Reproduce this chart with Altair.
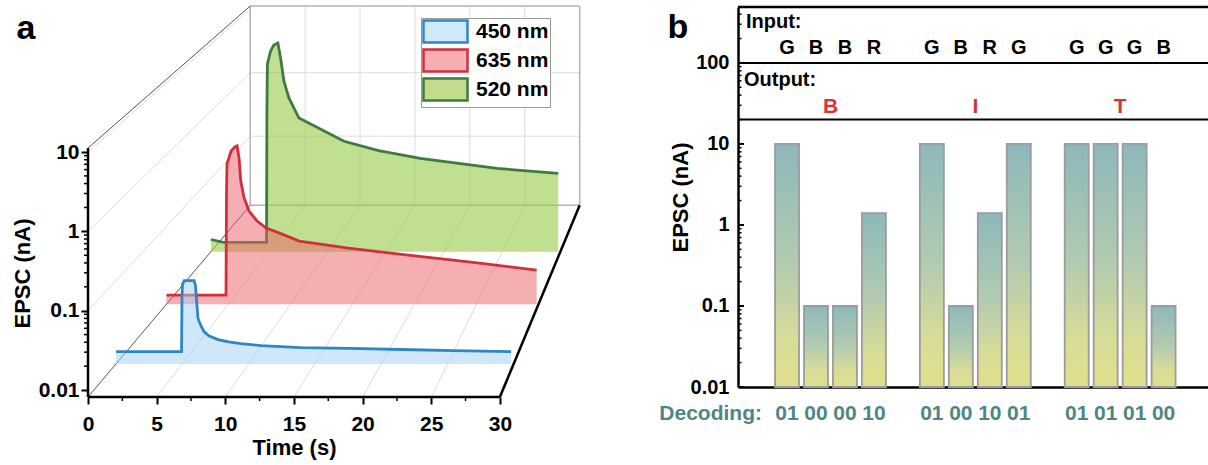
import json
import altair as alt
import numpy as np
import pandas as pd

FONT = "Liberation Sans"

# ================= Panel a : EPSC transients (pseudo-3D) =================
names = ["450 nm", "635 nm", "520 nm"]
line_colors = ["#2f86c6", "#d02f3c", "#3e7b3e"]
area_colors = ["#9fd0f3", "#ec5f67", "#9bcb4c"]
area_opacity = [0.5, 0.5, 0.62]
legend_fill = ["#cfe8fa", "#f5afb3", "#c2dc8c"]
depth = [1 / 7, 3 / 7, 5 / 7]

t_450 = [0, 4.95, 4.98, 5.02, 5.15, 5.9, 6.0, 6.1, 6.19, 6.4, 6.64, 7.0, 7.7, 8.5,
         9.43, 10.93, 13.95, 17.7, 21.5, 25.5, 29.8]
v_450 = [0.0118, 0.0118, 0.06, 0.09, 0.1, 0.1, 0.085, 0.05, 0.032, 0.026, 0.0216,
         0.019, 0.017, 0.0158, 0.0150, 0.0142, 0.0133, 0.0130, 0.0126, 0.0122, 0.0118]

t_635 = [0, 4.8, 4.84, 4.88, 5.21, 5.5, 5.69, 5.85, 5.99, 6.26, 6.66, 7.31, 8.04,
         9.33, 10.7, 14.66, 18.78, 25.24, 29.85]
v_635 = [0.0109, 0.0109, 0.3, 0.74, 1.12, 1.27, 1.32, 0.895, 0.428, 0.247, 0.163,
         0.118, 0.0942, 0.0777, 0.0619, 0.0495, 0.0408, 0.0305, 0.0244]

t_520 = [0, 1.0, 4.78, 4.81, 4.85, 5.12, 5.4, 5.75, 5.98, 6.27, 6.7, 7.56, 9.27,
         11.43, 14.4, 17.97, 24.58, 29.82]
v_520 = [0.0124, 0.0113, 0.0112, 1.0, 4.99, 7.78, 9.6, 10.25, 6.2, 2.79, 1.57, 0.79,
         0.556, 0.357, 0.26, 0.199, 0.141, 0.119]

series_t = [t_450, t_635, t_520]
series_v = [v_450, v_635, v_520]

x_ticks_a = [0, 5, 10, 15, 20, 25, 30]
x_minor_a = [2.5, 7.5, 12.5, 17.5, 22.5, 27.5]
y_ticks_a = [-2, -1, 0, 1]
y_labels_a = ["0.01", "0.1", "1", "10"]

# box of the 3D plot, in front-plane data units (time, log10 EPSC)
T0, T1 = 0.0, 30.0
L_FLOOR, L_TOP = -2.088, 1.05
VT, VL = 59.07, 10.0      # vanishing point
K = 0.25                  # perspective strength (back wall scaled by 0.8)


def proj(t, L, f):
    s = 1.0 / (1.0 + K * f)
    return VT + s * (np.asarray(t, float) - VT), VL + s * (np.asarray(L, float) - VL)


def seg(t1, L1, f1, t2, L2, f2):
    x1, y1 = proj(t1, L1, f1)
    x2, y2 = proj(t2, L2, f2)
    return dict(x=float(x1), y=float(y1), x2=float(x2), y2=float(y2))


WA, HA = 497, 390
xa = alt.Scale(domain=[0, 36.2], nice=False, zero=False)
ya = alt.Scale(domain=[L_FLOOR, 2.828], nice=False, zero=False)

x_axis_a = alt.Axis(values=x_ticks_a, domain=False, grid=False, tickSize=7, tickWidth=2,
                    tickColor="black", labelFont=FONT, labelFontSize=21, labelFontWeight="bold",
                    labelColor="black", labelPadding=9, labelFlush=False, labelOverlap=False,
                    title="Time (s)", titleFont=FONT, titleFontSize=22, titleFontWeight="bold",
                    titleColor="black", titleX=206, titleY=57, titleBaseline="alphabetic",
                    titleAlign="center")
y_axis_a = alt.Axis(values=y_ticks_a, labelExpr=json.dumps(y_labels_a) + "[datum.value + 2]",
                    domain=False, grid=False, tickSize=7, tickWidth=2, tickColor="black",
                    labelFont=FONT, labelFontSize=21, labelFontWeight="bold", labelColor="black",
                    labelPadding=2, labelFlush=False, labelOverlap=False,
                    title="EPSC (nA)", titleFont=FONT, titleFontSize=22, titleFontWeight="bold",
                    titleColor="black", titleX=-66, titleY=266, titleBaseline="middle",
                    titleAlign="center", titleAngle=270)

XA = alt.X("x:Q", scale=xa, axis=x_axis_a)
YA = alt.Y("y:Q", scale=ya, axis=y_axis_a)


def rules(rows, color, width):
    return alt.Chart(pd.DataFrame(rows)).mark_rule(color=color, strokeWidth=width).encode(
        XA, YA, x2="x2:Q", y2="y2:Q")


grid_rows = []
for t in [5, 10, 15, 20, 25]:
    grid_rows.append(seg(t, L_FLOOR, 1, t, L_TOP, 1))      # back wall verticals
    grid_rows.append(seg(t, L_FLOOR, 0, t, L_FLOOR, 1))    # floor lines
for L in [-1, 0]:
    grid_rows.append(seg(T0, L, 1, T1, L, 1))              # back wall horizontals
for L in [-1, 0, 1]:
    grid_rows.append(seg(T0, L, 0, T0, L, 1))              # left wall lines

frame_rows = [seg(T0, L_FLOOR, 1, T1, L_FLOOR, 1), seg(T0, L_TOP, 1, T1, L_TOP, 1),
              seg(T0, L_FLOOR, 1, T0, L_TOP, 1), seg(T1, L_FLOOR, 1, T1, L_TOP, 1)]
thin_rows = [seg(T0, L_FLOOR, 0, T0, L_FLOOR, 1), seg(T0, L_TOP, 0, T0, L_TOP, 1)]
thick_rows = [seg(T1, L_FLOOR, 0, T1, L_FLOOR, 1), seg(T0, L_FLOOR, 0, T1, L_FLOOR, 0),
              seg(T0, L_FLOOR, 0, T0, L_TOP, 0)]

layers_a = [rules(grid_rows, "#dcdcdc", 1), rules(frame_rows, "#b4b4b4", 1.5),
            rules(thin_rows, "#555555", 1)]

for i in [2, 1, 0]:
    xs, ys = proj(series_t[i], np.log10(series_v[i]), depth[i])
    _, yfloor = proj(0, L_FLOOR, depth[i])
    df = pd.DataFrame({"x": xs, "y": ys, "y2": float(yfloor)})
    layers_a.append(alt.Chart(df).mark_area(color=area_colors[i], opacity=area_opacity[i])
                    .encode(XA, YA, y2="y2:Q"))
    layers_a.append(alt.Chart(df).mark_line(color=line_colors[i], strokeWidth=2.8)
                    .encode(XA, YA))

layers_a.append(rules(thick_rows, "black", 2.5))

y_minor_a = [np.log10(k * 10.0 ** d) for d in [-2, -1, 0] for k in range(2, 10)]
layers_a.append(alt.Chart(pd.DataFrame({"y": y_minor_a})).mark_rule(color="black", strokeWidth=1.5)
                .encode(YA, x=alt.value(-4), x2=alt.value(0)))
layers_a.append(alt.Chart(pd.DataFrame({"x": x_minor_a})).mark_rule(color="black", strokeWidth=1.5)
                .encode(XA, y=alt.value(HA), y2=alt.value(HA + 4)))

leg = alt.Legend(title=None, orient="none", legendX=333, legendY=11,
                 symbolType="M-1,-1H3V1H-1Z", symbolSize=484, symbolStrokeWidth=2.5,
                 symbolOpacity=1, labelFont=FONT, labelFontSize=21, labelFontWeight="bold",
                 labelColor="black", labelOffset=29, padding=1, rowPadding=-4,
                 strokeColor="#999999", fillColor="white", cornerRadius=0)
layers_a.append(alt.Chart(pd.DataFrame({"series": names})).mark_point(opacity=0, filled=True)
                .encode(fill=alt.Fill("series:N", scale=alt.Scale(domain=names, range=legend_fill), legend=leg),
                        stroke=alt.Stroke("series:N", scale=alt.Scale(domain=names, range=line_colors), legend=leg),
                        x=alt.value(0), y=alt.value(0)))
layers_a.append(alt.Chart(pd.DataFrame({"lab": ["a"]})).mark_text(
    font=FONT, fontSize=34, fontWeight="bold", color="black", baseline="alphabetic", align="center")
    .encode(text="lab:N", x=alt.value(-62), y=alt.value(32)))

panel_a = alt.layer(*layers_a).properties(width=WA, height=HA)

# ================= Panel b : decoding bars =================
inputs = ["G", "B", "B", "R", "G", "B", "R", "G", "G", "G", "G", "B"]
decoding = ["01", "00", "00", "10", "01", "00", "10", "01", "01", "01", "01", "00"]
epsc_b = [10, 0.1, 0.1, 1.4, 10, 0.1, 1.4, 10, 10, 10, 10, 0.1]
outputs = ["B", "I", "T"]
y_ticks_b = [0.01, 0.1, 1, 10, 100]
y_labels_b = ["0.01", "0.1", "1", "10", "100"]
separators_b = [100, 20]

pos = [g * 5 + i + 1 for g in range(3) for i in range(4)]
out_pos = [g * 5 + 2.5 for g in range(3)]
df_b = pd.DataFrame({"pos": pos, "v": epsc_b, "inp": inputs, "dec": decoding})
df_out = pd.DataFrame({"pos": out_pos, "out": outputs})

WB, HB = 470, 380
xb = alt.Scale(domain=[-0.52, 15.36], nice=False, zero=False)
yb = alt.Scale(type="log", domain=[0.01, 490], nice=False)
x_axis_b = alt.Axis(labels=False, ticks=False, grid=False, domain=True, domainColor="black",
                    domainWidth=2.5, title=None)
y_axis_b = alt.Axis(values=y_ticks_b,
                    labelExpr=json.dumps(y_labels_b) + "[round(log(datum.value) / LN10) + 2]",
                    ticks=False, grid=False, domain=True, domainColor="black", domainWidth=2.5,
                    labelFont=FONT, labelFontSize=20, labelFontWeight="bold", labelColor="black",
                    labelPadding=9, labelFlush=False, labelOverlap=False,
                    title="EPSC (nA)", titleFont=FONT, titleFontSize=22, titleFontWeight="bold",
                    titleColor="black", titleX=-58, titleY=190, titleBaseline="middle",
                    titleAlign="center", titleAngle=270)
XB = alt.X("pos:Q", scale=xb, axis=x_axis_b)
YB = alt.Y("v:Q", scale=yb, axis=y_axis_b)

grad = alt.LinearGradient(gradient="linear", x1=0, x2=0, y1=0, y2=1, stops=[
    alt.GradientStop(color="#8db8bc", offset=0),
    alt.GradientStop(color="#b3cbb0", offset=0.5),
    alt.GradientStop(color="#d8dc98", offset=0.8),
    alt.GradientStop(color="#e0e08a", offset=1)])

bars = alt.Chart(df_b).mark_bar(width=24, fill=grad, stroke="#9c9c9c", strokeWidth=1.8).encode(
    XB, YB, y2=alt.datum(0.01))

minor_b = [k * 10.0 ** d for d in [-2, -1, 0, 1, 2] for k in range(2, 10) if k * 10.0 ** d < 490]
ticks_minor_b = alt.Chart(pd.DataFrame({"v": minor_b})).mark_rule(color="black", strokeWidth=1.5).encode(
    YB, x=alt.value(0), x2=alt.value(3.5))
ticks_major_b = alt.Chart(pd.DataFrame({"v": y_ticks_b})).mark_rule(color="black", strokeWidth=2).encode(
    YB, x=alt.value(0), x2=alt.value(6))
sep = alt.Chart(pd.DataFrame({"v": separators_b})).mark_rule(color="black", strokeWidth=2).encode(
    YB, x=alt.value(0), x2=alt.value(WB))
top_line = alt.Chart(pd.DataFrame({"v": [490]})).mark_rule(color="black", strokeWidth=2.5).encode(
    YB, x=alt.value(0), x2=alt.value(WB))

txt = dict(font=FONT, fontWeight="bold", baseline="alphabetic")
in_letters = alt.Chart(df_b).mark_text(fontSize=20, color="black", align="center", **txt).encode(
    XB, text="inp:N", y=alt.value(47))
dec_letters = alt.Chart(df_b).mark_text(fontSize=21, color="#4f8684", align="center", **txt).encode(
    XB, text="dec:N", y=alt.value(413))
out_letters = alt.Chart(df_out).mark_text(fontSize=21, color="#d8333b", align="center", **txt).encode(
    XB, text="out:N", y=alt.value(106))
row_titles = alt.Chart(pd.DataFrame({"lab": ["Input:", "Output:"], "py": [21, 79], "px": [8, 6]})).mark_text(
    fontSize=20, color="black", align="left", **txt).encode(
    text="lab:N", y=alt.Y("py:Q", scale=None), x=alt.X("px:Q", scale=None))
dec_title = alt.Chart(pd.DataFrame({"lab": ["Decoding:"]})).mark_text(
    fontSize=21, color="#4f8684", align="right", **txt).encode(
    text="lab:N", x=alt.value(24), y=alt.value(413))
b_label = alt.Chart(pd.DataFrame({"lab": ["b"]})).mark_text(
    fontSize=34, color="black", align="center", **txt).encode(
    text="lab:N", x=alt.value(-60), y=alt.value(31))

panel_b = alt.layer(bars, ticks_minor_b, ticks_major_b, sep, top_line, in_letters, dec_letters,
                    out_letters, row_titles, dec_title, b_label).properties(width=WB, height=HB)

chart = alt.hconcat(panel_a, panel_b, spacing=153, bounds="flush").properties(
    autosize=alt.AutoSizeParams(type="none"),
    padding={"left": 88, "top": 7, "right": 1120, "bottom": 458},
).configure_view(stroke=None)

chart.save("out.html", embed_options={"renderer": "svg", "actions": False})
